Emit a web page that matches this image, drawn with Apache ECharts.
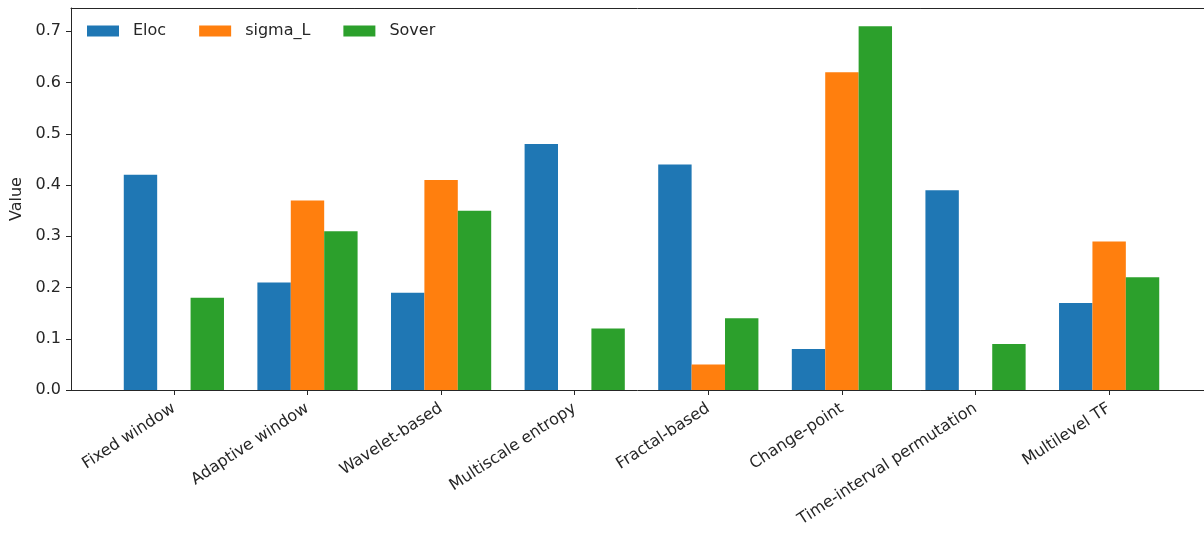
<!DOCTYPE html>
<html>
<head>
<meta charset="utf-8">
<script src="https://cdn.jsdelivr.net/npm/echarts@6/dist/echarts.min.js"></script>
<style>
  html, body { margin: 0; padding: 0; background: #fff; }
  #chart { width: 1204px; height: 535px; }
</style>
</head>
<body>
<div id="chart"></div>
<script>
const categories = ["Fixed window", "Adaptive window", "Wavelet-based", "Multiscale entropy",
  "Fractal-based", "Change-point", "Time-interval permutation", "Multilevel TF"];
const eloc = [0.42, 0.21, 0.19, 0.48, 0.44, 0.08, 0.39, 0.17];
const sigmaL = [0, 0.37, 0.41, 0, 0.05, 0.62, 0, 0.29];
const sover = [0.18, 0.31, 0.35, 0.12, 0.14, 0.71, 0.09, 0.22];
const yTicks = [0, 0.1, 0.2, 0.3, 0.4, 0.5, 0.6, 0.7];

const font = "DejaVu Sans";
const ink = "#262626";
const positions = categories.map((_, i) => i);
// matplotlib-like x range: margins around the grouped bars, right edge cut by the figure
const xMin = -0.77;
const xMax = 7.71;

const chart = echarts.init(document.getElementById("chart"), null, { renderer: "canvas" });

const bar = (name, values, color) => ({
  name,
  type: "bar",
  xAxisIndex: 0,
  data: values.map((v, i) => [i, v]),
  barWidth: "25%",
  barGap: "0%",
  itemStyle: { color },
  emphasis: { disabled: true },
});

chart.setOption({
  animation: false,
  backgroundColor: "#fff",
  textStyle: { fontFamily: font },
  grid: { left: 71, top: 8, right: 0, bottom: 145 },
  legend: {
    left: 82, top: 18,
    itemWidth: 32, itemHeight: 11, itemGap: 33,
    icon: "rect",
    textStyle: { fontFamily: font, fontSize: 16, color: ink, padding: [0, 0, 0, 9] },
  },
  xAxis: [
    {
      type: "value",
      min: xMin,
      max: xMax,
      axisLine: { show: true, onZero: false, lineStyle: { color: ink, width: 1 } },
      axisTick: { show: true, length: 5, customValues: positions, lineStyle: { color: ink } },
      axisLabel: {
        customValues: positions,
        rotate: 33,
        margin: 17,
        fontFamily: font,
        fontSize: 16,
        color: ink,
        formatter: (v) => categories[Math.round(v)],
      },
      splitLine: { show: false },
    },
    {
      // top spine only
      type: "value",
      position: "top",
      min: xMin,
      max: xMax,
      axisLine: { show: true, onZero: false, lineStyle: { color: ink, width: 1 } },
      axisTick: { show: false },
      axisLabel: { show: false },
      splitLine: { show: false },
    },
  ],
  yAxis: {
    type: "value",
    min: 0,
    max: 0.7455,
    name: "Value",
    nameLocation: "middle",
    nameGap: 43,
    nameTextStyle: { fontFamily: font, fontSize: 16, color: ink },
    axisLine: { show: true, onZero: false, lineStyle: { color: ink, width: 1 } },
    axisTick: { show: true, length: 5, customValues: yTicks, lineStyle: { color: ink } },
    axisLabel: {
      customValues: yTicks,
      margin: 10,
      fontFamily: font,
      fontSize: 16,
      color: ink,
      formatter: (v) => v.toFixed(1),
    },
    splitLine: { show: false },
  },
  series: [
    bar("Eloc", eloc, "#1f77b4"),
    bar("sigma_L", sigmaL, "#ff7f0e"),
    bar("Sover", sover, "#2ca02c"),
  ],
});
</script>
</body>
</html>
